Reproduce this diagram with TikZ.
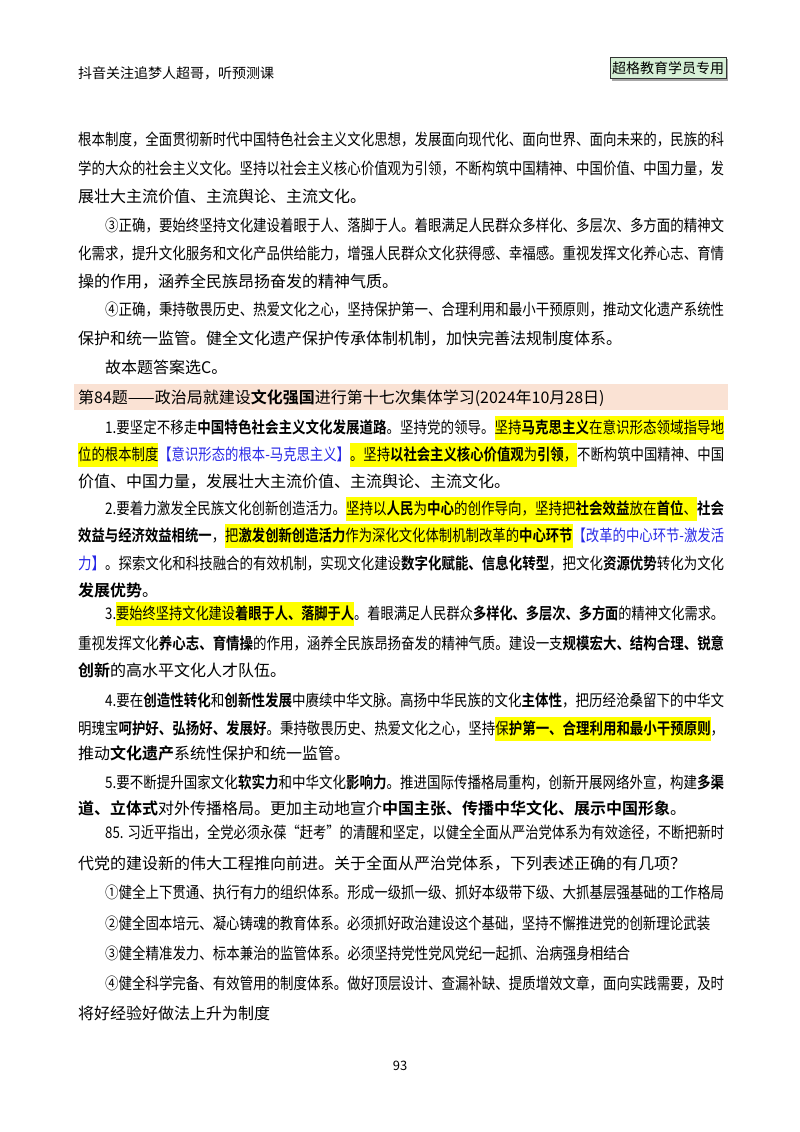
\documentclass[tikz,border=0pt]{standalone}
\usepackage{fontspec}
\setmainfont{Noto Sans CJK SC}[BoldFont={Noto Sans CJK SC Bold}]
\usepackage{graphicx}
\definecolor{hly}{RGB}{255,255,0}
\definecolor{bluet}{RGB}{40,40,230}
\definecolor{band}{RGB}{250,226,212}
\definecolor{boxg}{RGB}{214,240,214}
\newcommand\B[1]{\textbf{#1}}
\newcommand\hl[1]{{\setlength\fboxsep{0pt}\colorbox{hly}{\rule[-7pt]{0pt}{24pt}#1}}}
\newcommand\bl[1]{{\color{bluet}#1}}
\newcommand\fitl[2]{\setbox0\hbox{#2}\scalebox{\fpeval{#1/(\the\wd0)}}[1]{\box0}}
\tikzset{ln/.style={anchor=base west,inner sep=0pt,font=\fontsize{16}{18}\selectfont}}
\begin{document}
\begin{tikzpicture}[x=1pt,y=-1pt]
\useasboundingbox (0,0) rectangle (800,1132);
\node[ln,font=\fontsize{14}{16}\selectfont] (h) at (78,78) {抖音关注追梦人超哥，听预测课};
\fill[gray!70] (612,59) rectangle (728,81);
\node[draw=black!80,fill=boxg,inner sep=2pt,minimum width=115,minimum height=21,font=\fontsize{14}{16}\selectfont] (bx) at (668,68) {超格教育学员专用};
% paragraph 0
\node[ln] (a1) at (78,145) {\fitl{646}{根本制度，全面贯彻新时代中国特色社会主义文化思想，发展面向现代化、面向世界、面向未来的，民族的科}};
\node[ln] (a2) at (78,174) {\fitl{646}{学的大众的社会主义文化。坚持以社会主义核心价值观为引领，不断构筑中国精神、中国价值、中国力量，发}};
\node[ln] (a3) at (78,202) {展壮大主流价值、主流舆论、主流文化。};
\node[ln] (b1) at (105,231) {\fitl{619}{③正确，要始终坚持文化建设着眼于人、落脚于人。着眼满足人民群众多样化、多层次、多方面的精神文}};
\node[ln] (b2) at (78,259) {\fitl{646}{化需求，提升文化服务和文化产品供给能力，增强人民群众文化获得感、幸福感。重视发挥文化养心志、育情}};
\node[ln] (b3) at (78,287) {操的作用，涵养全民族昂扬奋发的精神气质。};
\node[ln] (c1) at (105,315) {\fitl{619}{④正确，秉持敬畏历史、热爱文化之心，坚持保护第一、合理利用和最小干预原则，推动文化遗产系统性}};
\node[ln] (c2) at (78,344) {保护和统一监管。健全文化遗产保护传承体制机制，加快完善法规制度体系。};
\node[ln] (c3) at (105,373) {故本题答案选C。};
% title band
\fill[band] (74,384) rectangle (728,410);
\node[ln] (t) at (78,403) {第84题——政治局就建设\B{文化强国}进行第十七次集体学习(2024年10月28日)};
% 1
\node[ln] (d1) at (105,433) {\fitl{619}{1.要坚定不移走\B{中国特色社会主义文化发展道路}。坚持党的领导。\hl{坚持\B{马克思主义}在意识形态领域指导地}}};
\node[ln] (d2) at (78,460) {\fitl{646}{\hl{位的根本制度}\bl{【意识形态的根本-马克思主义】}\hl{。坚持\B{以社会主义核心价值观}为\B{引领}，}不断构筑中国精神、中国}};
\node[ln] (d3) at (78,487) {价值、中国力量，发展壮大主流价值、主流舆论、主流文化。};
% 2
\node[ln] (e1) at (105,514) {\fitl{619}{2.要着力激发全民族文化创新创造活力。\hl{坚持以\B{人民}为\B{中心}的创作导向，坚持把\B{社会效益}放在\B{首位}、}\B{社会}}};
\node[ln] (e2) at (78,541) {\fitl{646}{\B{效益与经济效益相统一}，\hl{把\B{激发创新创造活力}作为深化文化体制机制改革的\B{中心环节}}\bl{【改革的中心环节-激发活}}};
\node[ln] (e3) at (78,569) {\fitl{646}{\bl{力】}。探索文化和科技融合的有效机制，实现文化建设\B{数字化赋能、信息化转型}，把文化\B{资源优势}转化为文化}};
\node[ln] (e4) at (78,596) {\B{发展优势}。};
% 3
\node[ln] (f1) at (105,619) {\fitl{619}{3.\hl{要始终坚持文化建设\B{着眼于人、落脚于人}}。着眼满足人民群众\B{多样化、多层次、多方面}的精神文化需求。}};
\node[ln] (f2) at (78,649) {\fitl{646}{重视发挥文化\B{养心志、育情操}的作用，涵养全民族昂扬奋发的精神气质。建设一支\B{规模宏大、结构合理、锐意}}};
\node[ln] (f3) at (78,676) {\B{创新}的高水平文化人才队伍。};
% 4
\node[ln] (g1) at (105,706) {\fitl{619}{4.要在\B{创造性转化}和\B{创新性发展}中赓续中华文脉。高扬中华民族的文化\B{主体性}，把历经沧桑留下的中华文}};
\node[ln] (g2) at (78,734) {\fitl{646}{明瑰宝\B{呵护好、弘扬好、发展好}。秉持敬畏历史、热爱文化之心，坚持\hl{保\B{护第一、合理利用和最小干预原则}}，}};
\node[ln] (g3) at (78,759) {推动\B{文化遗产}系统性保护和统一监管。};
% 5
\node[ln] (k1) at (105,788) {\fitl{619}{5.要不断提升国家文化\B{软实力}和中华文化\B{影响力}。推进国际传播格局重构，创新开展网络外宣，构建\B{多渠}}};
\node[ln] (k2) at (78,814) {\B{道、立体式}对外传播格局。更加主动地宣介\B{中国主张、传播中华文化、展示中国形象}。};
% 85
\node[ln] (m1) at (105,838) {\fitl{619}{85. 习近平指出，全党必须永葆“赶考”的清醒和坚定，以健全全面从严治党体系为有效途径，不断把新时}};
\node[ln] (m2) at (78,869) {代党的建设新的伟大工程推向前进。关于全面从严治党体系，下列表述正确的有几项？};
\node[ln] (n1) at (105,898) {\fitl{619}{①健全上下贯通、执行有力的组织体系。形成一级抓一级、抓好本级带下级、大抓基层强基础的工作格局}};
\node[ln] (n2) at (105,929) {\fitl{605}{②健全固本培元、凝心铸魂的教育体系。必须抓好政治建设这个基础，坚持不懈推进党的创新理论武装}};
\node[ln] (n3) at (105,959) {\fitl{525}{③健全精准发力、标本兼治的监管体系。必须坚持党性党风党纪一起抓、治病强身相结合}};
\node[ln] (n4) at (105,989) {\fitl{619}{④健全科学完备、有效管用的制度体系。做好顶层设计、查漏补缺、提质增效文章，面向实践需要，及时}};
\node[ln] (n5) at (78,1019) {将好经验好做法上升为制度};
\node[font=\fontsize{13}{15}\selectfont,inner sep=0] (pg) at (400,1066) {93};
\end{tikzpicture}
\end{document}
